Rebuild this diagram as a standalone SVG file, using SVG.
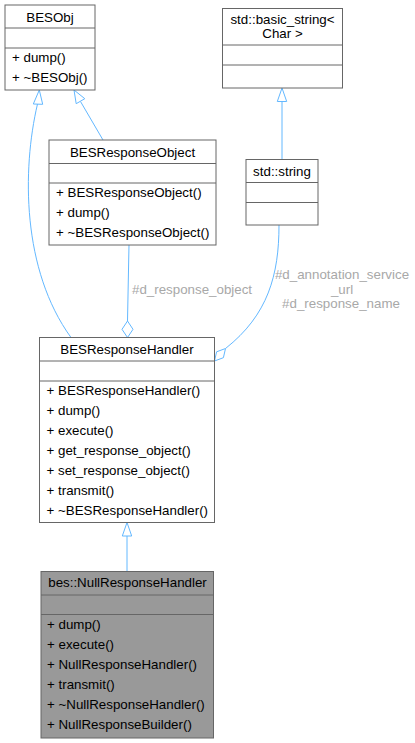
<svg xmlns="http://www.w3.org/2000/svg" width="415" height="743" viewBox="0 0 415 743">
<style>
text{font-family:"Liberation Sans",Arial,Helvetica,sans-serif;font-size:13.33px;fill:#000}
.t{text-anchor:middle}
.box{fill:#fff;stroke:#666;stroke-width:1}
.sep{stroke:#666;stroke-width:1}
.edge{fill:none;stroke:#63b8ff;stroke-width:1}
.head{fill:#fff;stroke:#63b8ff;stroke-width:1}
.lbl{fill:#a8a8a8;font-size:13.33px}
</style>
<rect width="415" height="743" fill="#fff"/>
<g id="connectors">
<path class="edge" d="M71,337.5 C22,270 22,170 37.5,104"/>
<polygon class="head" points="39.3,90 33.3,104 42.7,104.3"/>
<path class="edge" d="M103,140 L80.5,101.5"/>
<polygon class="head" points="74,90 76.2,103.7 84.8,98.7"/>
<path class="edge" d="M282,159.5 L282,101.5"/>
<polygon class="head" points="282,88 277.3,101.5 286.7,101.5"/>
<path class="edge" d="M129,245 L127.5,321"/>
<polygon class="head" points="127.5,321 122,329.3 127.5,337.5 133,329.3"/>
<text class="lbl" x="132" y="294.3">#d_response_object</text>
<path class="edge" d="M279,225 C279,275 268,315 225.5,348.5"/>
<polygon class="head" points="225.5,348.5 216.6,351.8 214.5,361 223.4,357.7"/>
<text class="lbl t" x="342" y="279.3">#d_annotation_service</text>
<text class="lbl t" x="342" y="294">_url</text>
<text class="lbl t" x="341" y="308.3">#d_response_name</text>
<path class="edge" d="M127,571.5 L127,536"/>
<polygon class="head" points="127,522.5 122.3,536 131.7,536"/>
</g>
<g id="BESObj">
<rect class="box" x="5" y="5" width="90" height="85"/>
<line class="sep" x1="5" y1="28" x2="95" y2="28"/>
<line class="sep" x1="5" y1="48" x2="95" y2="48"/>
<text class="t" x="50" y="21.5">BESObj</text>
<text x="12" y="62">+ dump()</text>
<text x="12" y="82">+ ~BESObj()</text>
</g>
<g id="std_basic_string">
<rect class="box" x="222.5" y="8.5" width="120" height="79.5"/>
<line class="sep" x1="222.5" y1="45" x2="342.5" y2="45"/>
<line class="sep" x1="222.5" y1="65" x2="342.5" y2="65"/>
<text class="t" x="282.5" y="24">std::basic_string&lt;</text>
<text class="t" x="282.5" y="38.3">Char &gt;</text>
</g>
<g id="std_string">
<rect class="box" x="246" y="159.5" width="72" height="65.5"/>
<line class="sep" x1="246" y1="182.5" x2="318" y2="182.5"/>
<line class="sep" x1="246" y1="202.5" x2="318" y2="202.5"/>
<text class="t" x="282" y="176">std::string</text>
</g>
<g id="BESResponseObject">
<rect class="box" x="49" y="140" width="167" height="105"/>
<line class="sep" x1="49" y1="163.5" x2="216" y2="163.5"/>
<line class="sep" x1="49" y1="183" x2="216" y2="183"/>
<text class="t" x="132.5" y="156.5">BESResponseObject</text>
<text x="56" y="196.5">+ BESResponseObject()</text>
<text x="56" y="216.5">+ dump()</text>
<text x="56" y="236.5">+ ~BESResponseObject()</text>
</g>
<g id="BESResponseHandler">
<rect class="box" x="39.5" y="337.5" width="175" height="185"/>
<line class="sep" x1="39.5" y1="361" x2="214.5" y2="361"/>
<line class="sep" x1="39.5" y1="381" x2="214.5" y2="381"/>
<text class="t" x="127" y="354">BESResponseHandler</text>
<text x="46.5" y="394.5">+ BESResponseHandler()</text>
<text x="46.5" y="414.5">+ dump()</text>
<text x="46.5" y="434.5">+ execute()</text>
<text x="46.5" y="454.5">+ get_response_object()</text>
<text x="46.5" y="474.5">+ set_response_object()</text>
<text x="46.5" y="494.5">+ transmit()</text>
<text x="46.5" y="514.5">+ ~BESResponseHandler()</text>
</g>
<g id="NullResponseHandler">
<rect x="41" y="571.5" width="172.5" height="166.5" fill="#999" stroke="#666" stroke-width="1"/>
<line class="sep" x1="41" y1="595" x2="213.5" y2="595"/>
<line class="sep" x1="41" y1="614.5" x2="213.5" y2="614.5"/>
<text class="t" x="127.5" y="587">bes::NullResponseHandler</text>
<text x="47" y="628.5">+ dump()</text>
<text x="47" y="648.5">+ execute()</text>
<text x="47" y="668.5">+ NullResponseHandler()</text>
<text x="47" y="688.5">+ transmit()</text>
<text x="47" y="708.5">+ ~NullResponseHandler()</text>
<text x="47" y="728.5">+ NullResponseBuilder()</text>
</g>
</svg>
